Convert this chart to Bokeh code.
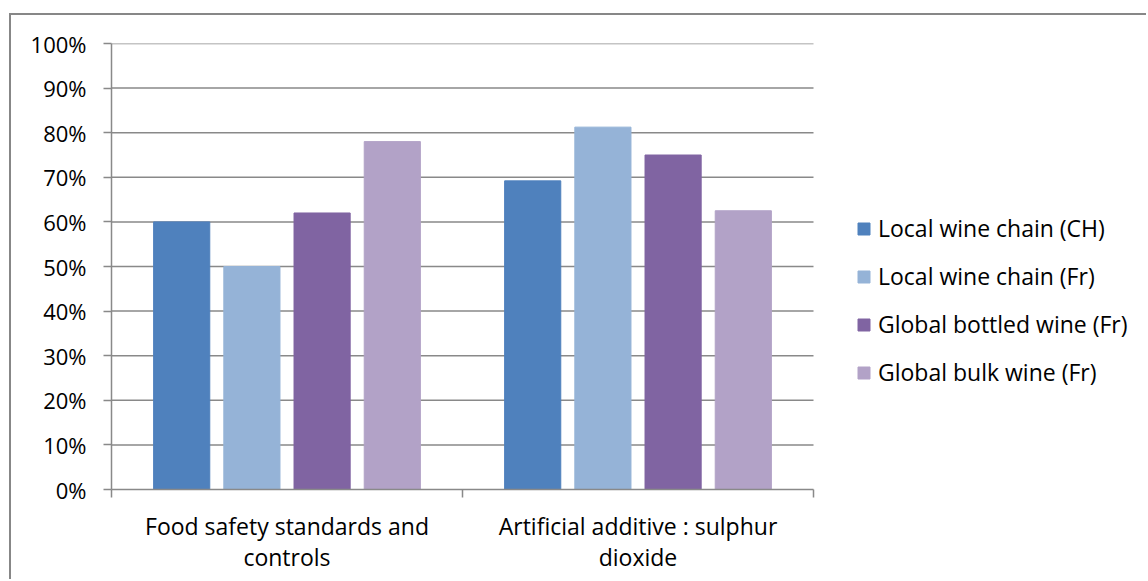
from bokeh.plotting import figure
from bokeh.models import (ColumnDataSource, Legend, LegendItem, LinearAxis,
                          NumeralTickFormatter, FixedTicker, Range1d)
from bokeh.embed import file_html
from bokeh.resources import INLINE

# Survey results per category (share of respondents)
categories = ["Food safety standards and\ncontrols",
              "Artificial additive : sulphur\ndioxide"]
series_names = ["Local wine chain (CH)", "Local wine chain (Fr)",
                "Global bottled wine (Fr)", "Global bulk wine (Fr)"]
local_chain_ch = [0.60, 0.692]
local_chain_fr = [0.50, 0.8125]
global_bottled_fr = [0.62, 0.75]
global_bulk_fr = [0.78, 0.625]
series_values = [local_chain_ch, local_chain_fr, global_bottled_fr, global_bulk_fr]
series_colors = ["#4F81BD", "#95B3D7", "#8064A2", "#B2A2C7"]
y_ticks = [i / 10 for i in range(11)]

FONT = "Open Sans"
GRID = "#898989"

# canvas / frame geometry in pixels
CANVAS_W, CANVAS_H = 1137, 566
LEFT, TOP, BOTTOM = 100, 28, 92
SLOT_PX = 351                      # width of one category slot
frame_w = CANVAS_W - LEFT
n_cat = len(categories)
x_end = frame_w / SLOT_PX          # frame also hosts the legend on the right

p = figure(width=CANVAS_W, height=CANVAS_H, output_backend="svg", toolbar_location=None,
           x_range=Range1d(0, x_end), y_range=Range1d(0, 1),
           x_axis_location=None,
           min_border_left=LEFT, min_border_right=0,
           min_border_top=TOP, min_border_bottom=BOTTOM)
p.margin = (13, 0, 0, 9)
p.styles = {"border-left": "2px solid #878787", "border-top": "2px solid #878787"}
p.outline_line_color = None
p.background_fill_color = "white"
p.border_fill_color = "white"
p.xgrid.grid_line_color = None
p.ygrid.grid_line_color = None

# horizontal gridlines only across the category slots
grid_y = [t for t in y_ticks if t > 0]
p.segment(x0=[0] * len(grid_y), x1=[n_cat] * len(grid_y), y0=grid_y, y1=grid_y,
          line_color=GRID, line_width=1.5)

# bars: four series side by side inside each category slot
n = len(series_values)
step, bar_w = 0.2, 0.16
items = []
for i, (name, vals, col) in enumerate(zip(series_names, series_values, series_colors)):
    xs = [k + 0.5 + (i - (n - 1) / 2) * step for k in range(n_cat)]
    src = ColumnDataSource(dict(x=xs, top=vals))
    r = p.vbar(x="x", top="top", width=bar_w, source=src,
               fill_color=col, line_color=col)
    items.append(LegendItem(label=name, renderers=[r]))

# y axis
p.yaxis.ticker = FixedTicker(ticks=y_ticks)
p.yaxis.formatter = NumeralTickFormatter(format="0%")
p.yaxis.axis_line_color = GRID
p.yaxis.axis_line_width = 1.5
p.yaxis.major_tick_line_color = GRID
p.yaxis.major_tick_line_width = 1.5
p.yaxis.major_tick_in = 0
p.yaxis.major_tick_out = 8
p.yaxis.minor_tick_line_color = None
p.yaxis.major_label_standoff = 17
p.yaxis.major_label_text_font = FONT
p.yaxis.major_label_text_font_size = "22px"
p.yaxis.major_label_text_color = "black"

# x axis: tick marks on the category boundaries, no labels
bounds = list(range(n_cat + 1))
x_bound_axis = LinearAxis(ticker=FixedTicker(ticks=bounds), bounds=(0, n_cat),
                          major_label_overrides={b: "" for b in bounds},
                          axis_line_color=GRID, axis_line_width=1.5,
                          major_tick_line_color=GRID, major_tick_line_width=1.5,
                          major_tick_in=0, major_tick_out=8,
                          minor_tick_line_color=None,
                          major_label_standoff=0)
p.add_layout(x_bound_axis, "below")

# category names centred in each slot
centers = [k + 0.5 for k in range(n_cat)]
x_name_axis = LinearAxis(ticker=FixedTicker(ticks=centers),
                         major_label_overrides={c: name for c, name in zip(centers, categories)},
                         axis_line_color=None, major_tick_line_color=None,
                         minor_tick_line_color=None, major_tick_in=0, major_tick_out=0,
                         major_label_standoff=12,
                         major_label_text_font=FONT, major_label_text_font_size="23px",
                         major_label_text_color="black",
                         major_label_text_line_height=0.98)
p.add_layout(x_name_axis, "below")

legend = Legend(items=items, location=(745, 101), orientation="vertical",
                glyph_width=15, glyph_height=15, label_standoff=7,
                label_text_font=FONT, label_text_font_size="23px",
                label_text_color="black", label_height=15, spacing=16,
                padding=0, margin=0, border_line_color=None,
                background_fill_alpha=0)
p.add_layout(legend, "center")

open("out.html", "w").write(file_html(p, INLINE))
